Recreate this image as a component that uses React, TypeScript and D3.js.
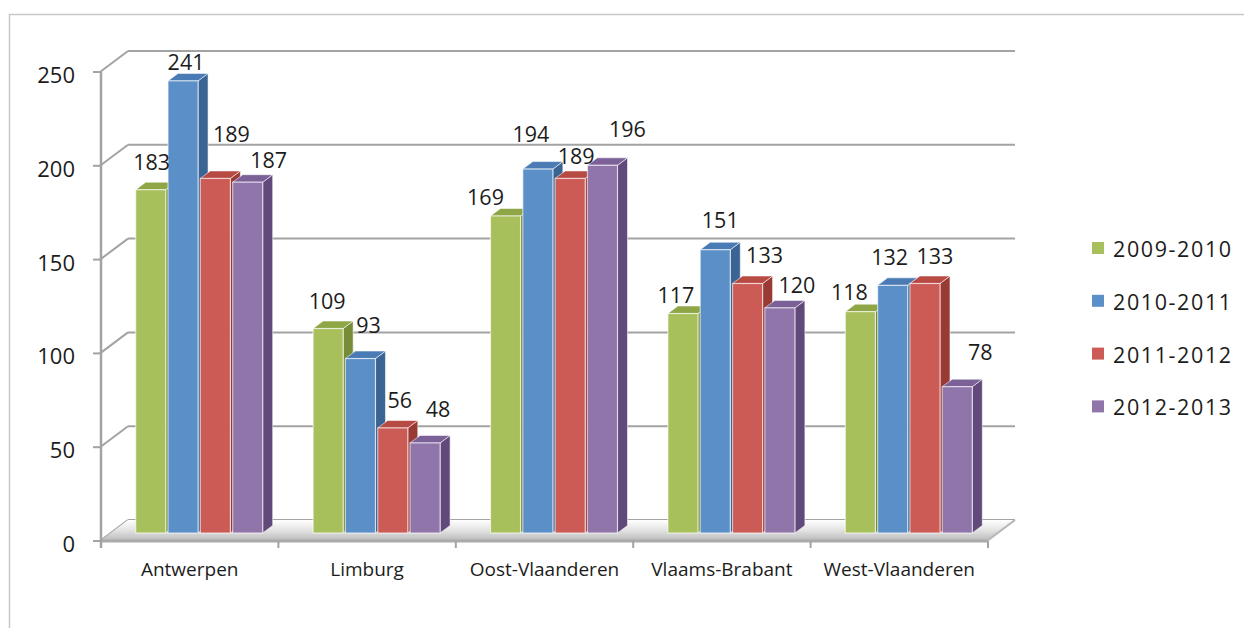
import * as d3 from 'd3';

const categories = ['Antwerpen', 'Limburg', 'Oost-Vlaanderen', 'Vlaams-Brabant', 'West-Vlaanderen'];
const seriesNames = ['2009-2010', '2010-2011', '2011-2012', '2012-2013'];
const values0910 = [183, 109, 169, 117, 118];
const values1011 = [241, 93, 194, 151, 132];
const values1112 = [189, 56, 189, 133, 133];
const values1213 = [187, 48, 196, 120, 78];
const yTicks = [0, 50, 100, 150, 200, 250];

const seriesValues = [values0910, values1011, values1112, values1213];

// front / top / side shades per series
const colors = [
  { front: '#a8c05c', top: '#8ea646', side: '#768c36' },
  { front: '#5b8fc8', top: '#4a7bb4', side: '#3a6494' },
  { front: '#cc5b55', top: '#b84a44', side: '#9a3a35' },
  { front: '#9075ab', top: '#7c6198', side: '#614a7b' },
];

// label shifts so they sit like the original (overlap avoidance)
const labelShift: [number, number][][] = [
  [[-4, -8], [-6, -8], [-25, 1], [-12, 1], [-16, 0]],
  [[-2, 1], [3, -14], [-12, -15], [0, -10], [-8, -8]],
  [[11, -24], [2, -8], [1, -2], [12, -8], [5, -7]],
  [[16, -2], [8, -14], [20, -16], [12, -3], [18, -15]],
];

const font = "'Open Sans', 'Liberation Sans', sans-serif";
const textColor = '#1c1c1c';
const gridColor = '#a3a3a3';

// 3D wall depth and bar offsets
const wallDx = 28;
const wallDy = 21;
const barOffX = 10.7;
const barOffY = 8;
const barDx = 10;
const barDy = 7.5;

export default function App() {
  const width = 1244;
  const height = 628;
  const left = 100;
  const right = 987;
  const bottom = 541;
  const top = 72;

  const x0 = d3.scaleBand<string>().domain(categories).range([left, right]);
  const x1 = d3
    .scaleBand<string>()
    .domain(seriesNames)
    .range([25, x0.bandwidth() - 25.4])
    .paddingInner(0.07);
  const y = d3.scaleLinear().domain([0, 250]).range([bottom, top]);
  const bw = x1.bandwidth();

  const floor = [
    [left, bottom],
    [right, bottom],
    [right + wallDx, bottom - wallDy],
    [left + wallDx, bottom - wallDy],
  ];

  const bars: JSX.Element[] = [];
  const labels: JSX.Element[] = [];
  categories.forEach((cat, ci) => {
    seriesNames.forEach((s, si) => {
      const v = seriesValues[si][ci];
      const bx = (x0(cat) as number) + (x1(s) as number) + barOffX;
      const yt = y(v) - barOffY;
      const yb = y(0) - barOffY;
      const c = colors[si];
      const topPts = [
        [bx, yt],
        [bx + bw, yt],
        [bx + bw + barDx, yt - barDy],
        [bx + barDx, yt - barDy],
      ];
      const sidePts = [
        [bx + bw, yt],
        [bx + bw + barDx, yt - barDy],
        [bx + bw + barDx, yb - barDy],
        [bx + bw, yb],
      ];
      bars.push(
        <g key={`${ci}-${si}`}>
          <polygon points={sidePts.map((p) => p.join(',')).join(' ')} fill={c.side} stroke="#ffffff" strokeOpacity={0.55} strokeWidth={1} />
          <polygon points={topPts.map((p) => p.join(',')).join(' ')} fill={c.top} stroke="#ffffff" strokeOpacity={0.55} strokeWidth={1} />
          <rect x={bx} y={yt} width={bw} height={yb - yt} fill={c.front} stroke="#ffffff" strokeOpacity={0.6} strokeWidth={1.2} />
        </g>
      );
      const [sx, sy] = labelShift[si][ci];
      labels.push(
        <text
          key={`l${ci}-${si}`}
          x={bx + bw / 2 + 5 + sx}
          y={yt - 12 + sy}
          textAnchor="middle"
          fontSize={21.5}
          fill={textColor}
          fontFamily={font}
        >
          {v}
        </text>
      );
    });
  });

  return (
    <svg width={width} height={height} style={{ position: 'absolute', left: 0, top: 0 }}>
      <defs>
        <linearGradient id="floorGrad" x1="0" y1="0" x2="0" y2="1">
          <stop offset="0%" stopColor="#ffffff" />
          <stop offset="50%" stopColor="#e2e2e2" />
          <stop offset="100%" stopColor="#b8b8b8" />
        </linearGradient>
      </defs>
      <rect x={0} y={0} width={width} height={height} fill="#ffffff" />
      <rect x={9.5} y={14.5} width={width + 20} height={height + 20} fill="none" stroke="#c8c8c8" strokeWidth={1.5} />

      {/* back wall gridlines and left wall diagonals */}
      {yTicks.map((t) => (
        <g key={`g${t}`}>
          <line x1={left + wallDx} x2={right + wallDx} y1={y(t) - wallDy} y2={y(t) - wallDy} stroke={gridColor} strokeWidth={2} />
          <line x1={left} x2={left + wallDx} y1={y(t)} y2={y(t) - wallDy} stroke={gridColor} strokeWidth={2} />
          <line x1={left - 7} x2={left} y1={y(t)} y2={y(t)} stroke={gridColor} strokeWidth={2} />
          <text x={75} y={y(t) + 11} textAnchor="end" fontSize={22} fill={textColor} fontFamily={font}>
            {t}
          </text>
        </g>
      ))}

      {/* floor */}
      <polygon points={floor.map((p) => p.join(',')).join(' ')} fill="url(#floorGrad)" />
      <line x1={left} x2={right} y1={bottom} y2={bottom} stroke="#aaaaaa" strokeWidth={3} />
      <line x1={right} x2={right + wallDx} y1={bottom} y2={bottom - wallDy} stroke="#b5b5b5" strokeWidth={2} />

      {/* front value axis */}
      <line x1={left + 1} x2={left + 1} y1={top} y2={bottom + 7} stroke={gridColor} strokeWidth={2.5} />

      {/* category ticks */}
      {[...categories.map((c) => x0(c) as number), right].map((xv, i) => (
        <line key={`t${i}`} x1={xv + 1} x2={xv + 1} y1={bottom} y2={bottom + 7} stroke={gridColor} strokeWidth={2} />
      ))}

      {bars}
      {labels}

      {categories.map((c) => (
        <text
          key={`c${c}`}
          x={(x0(c) as number) + x0.bandwidth() / 2 + 1}
          y={576}
          textAnchor="middle"
          fontSize={19}
          fill={textColor}
          fontFamily={font}
        >
          {c}
        </text>
      ))}

      {/* legend */}
      {seriesNames.map((s, i) => (
        <g key={`lg${s}`} transform={`translate(1092, ${242 + i * 52.8})`}>
          <rect x={0} y={0} width={12} height={12} fill={colors[i].front} />
          <text x={21} y={15} fontSize={21.5} letterSpacing={1.6} fill={textColor} fontFamily={font}>
            {s}
          </text>
        </g>
      ))}
    </svg>
  );
}
